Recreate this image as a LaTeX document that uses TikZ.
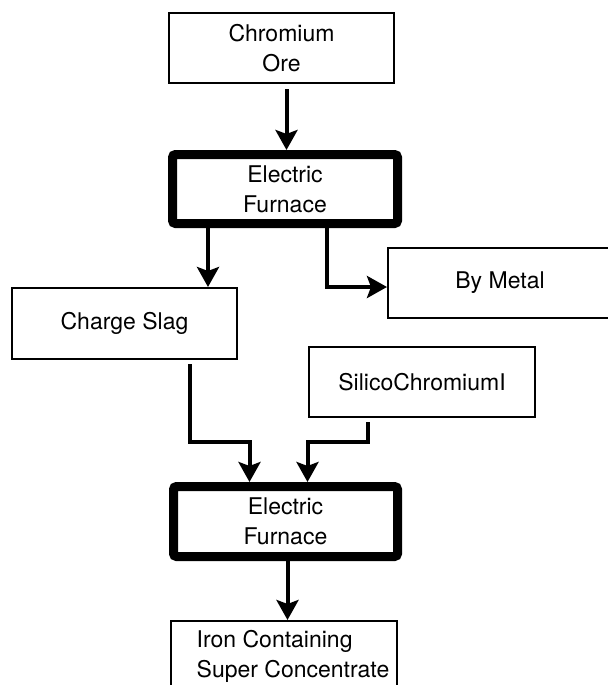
\documentclass[tikz,border=0pt]{standalone}
\usepackage{fontspec}
\setmainfont{TeX Gyre Heros}
\usetikzlibrary{arrows.meta}

\tikzset{
  unit/.style={draw, line width=1pt, minimum width=112.5pt, minimum height=35pt,
    inner sep=0pt, align=center, font=\fontsize{11.5}{15}\selectfont},
  furnace/.style={unit, line width=4.5pt, rounded corners=1.5pt},
  flow/.style={line width=2pt, -{Stealth[length=10pt,width=11pt,inset=2pt]}},
}

\begin{document}
\begin{tikzpicture}[x=0.5pt,y=0.5pt,yscale=-1,xscale=1]

\useasboundingbox (0,0) rectangle (608,685);

\node (ore) [unit] at (281.5,48) {Chromium\\Ore};
\node (furn1) [furnace, minimum height=34.5pt] at (285,189) {Electric\\Furnace};
\node (bymetal) [unit, minimum width=112pt] at (500,283) {By Metal};
\node (slag) [unit, minimum height=35.5pt] at (124.5,323.5) {Charge Slag};
\node (silico) [unit, minimum width=113pt] at (422,382) {SilicoChromiumI};
\node (furn2) [furnace, minimum width=112pt] at (285.5,521.5) {Electric\\Furnace};
\node (iron) [unit, minimum width=113pt, align=left] at (284,656)
  {\hspace*{9pt}Iron Containing\\\hspace*{9pt}Super Concentrate};

% yscale=-1 also flips yshift
\coordinate (o1) at ([xshift=2.5pt,yshift=2.5pt]ore.south);
\coordinate (f1a) at ([xshift=20pt]furn1.south west);
\coordinate (f1b) at ([xshift=21pt]furn1.south);
\coordinate (s1) at ([xshift=-24pt,yshift=2pt]slag.south east);
\coordinate (s2) at ([xshift=-27pt,yshift=2pt]silico.south);
\coordinate (in1) at ([xshift=-18pt]furn2.north);
\coordinate (in2) at ([xshift=11pt]furn2.north);
\coordinate (f2) at ([xshift=1pt]furn2.south);

\draw [flow] (o1) -- (o1 |- furn1.north);
\draw [flow] (f1a) -- (f1a |- slag.north);
\draw [flow] (f1b) |- ([yshift=2pt]bymetal.west);
\draw [flow] (s1) |- ([yshift=-20pt]in1) -- (in1);
\draw [flow] (s2) |- ([yshift=-20pt]in2) -- (in2);
\draw [flow] (f2) -- (f2 |- iron.north);

\end{tikzpicture}
\end{document}
